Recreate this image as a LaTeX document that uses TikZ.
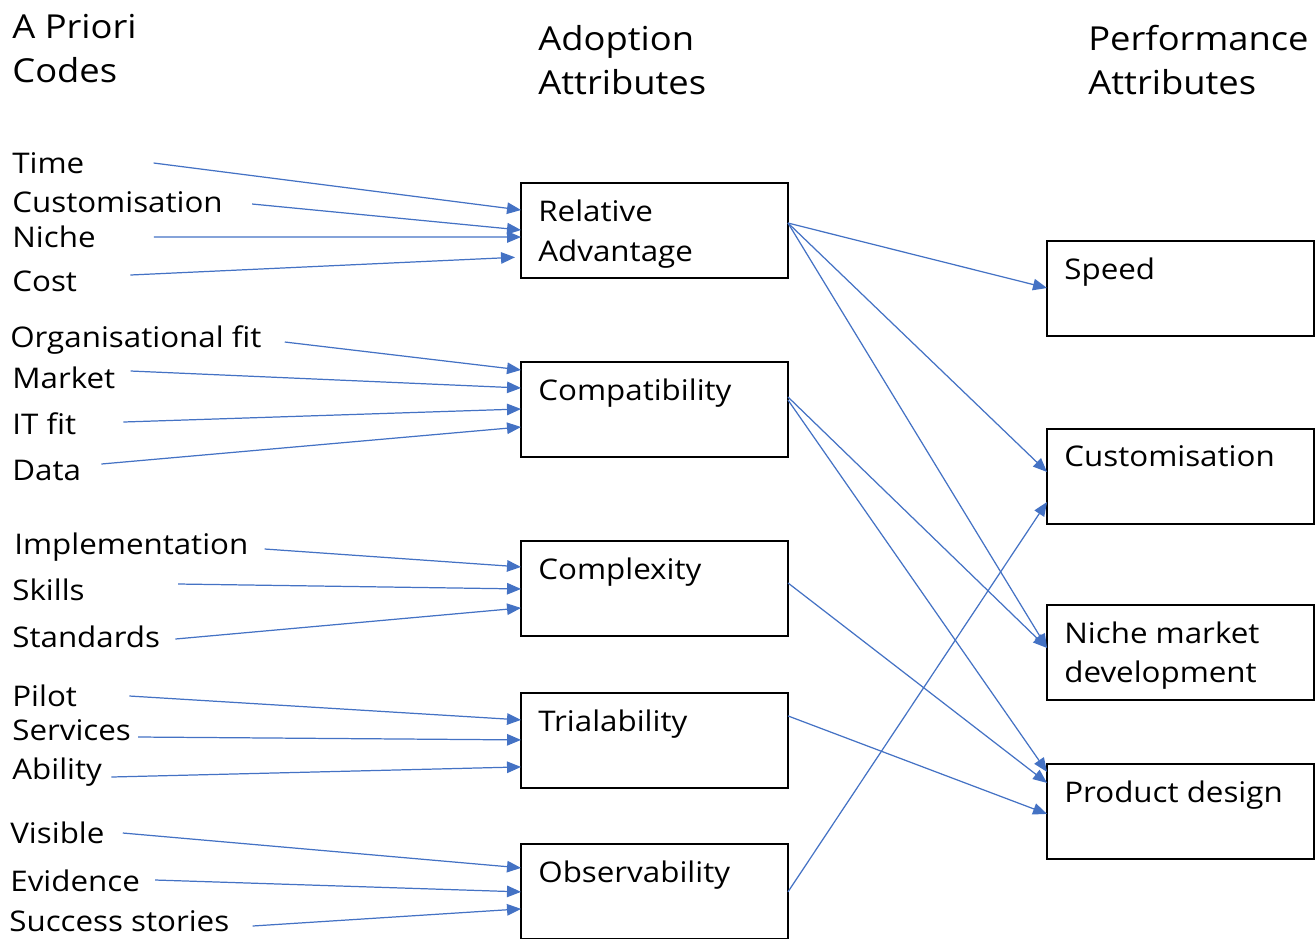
\documentclass[tikz,border=0pt]{standalone}
\usepackage{fontspec}
\setmainfont{Open Sans}[FakeStretch=1.1]
\usetikzlibrary{positioning, calc, arrows.meta}
\definecolor{arrowblue}{HTML}{4472C4}

\begin{document}
\begin{tikzpicture}[x=0.02cm, y=-0.02cm]
    \tikzstyle{box}=[draw, rectangle, line width=1pt, minimum width=5.34cm,
    minimum height=1.9cm, inner sep=0pt, outer sep=0pt];
    \tikzstyle{boxtext}=[inner sep=0pt, align=left, font=\fontsize{16.2}{22.5}\selectfont];
    \tikzstyle{codetext}=[inner sep=0pt, anchor=base west, font=\fontsize{16.2}{22.5}\selectfont];
    \tikzstyle{heading}=[inner sep=0pt, anchor=north west, align=left,
    font=\fontsize{18.8}{25}\selectfont];
    \tikzstyle{line}=[-{Triangle[length=0.28cm, width=0.23cm]}, draw=arrowblue, line width=0.7pt];
    \useasboundingbox (0,0) rectangle (1315,938);

    % headings
    \node[heading] (hcodes) at (12,14) {A Priori\\Codes};
    \node[heading] (hadopt) at (538,25) {Adoption\\Attributes};
    \node[heading] (hperf) at (1088,25) {Performance\\Attributes};

    % adoption attributes
    \node[box] (rel) at (654.5,230.5) {};
    \node[box, below=1.68cm of rel] (comp) {};
    \node[box, below=1.68cm of comp] (cplx) {};
    \node[box, below=1.14cm of cplx] (trial) {};
    \node[box, below=1.12cm of trial] (obs) {};
    \node[boxtext, below right=0.33cm and 0.34cm of rel.north west] (rel-t) {Relative\\Advantage};
    \node[boxtext, below right=0.33cm and 0.34cm of comp.north west] (comp-t) {Compatibility};
    \node[boxtext, below right=0.33cm and 0.34cm of cplx.north west] (cplx-t) {Complexity};
    \node[boxtext, below right=0.33cm and 0.34cm of trial.north west] (trial-t) {Trialability};
    \node[boxtext, below right=0.33cm and 0.34cm of obs.north west] (obs-t) {Observability};

    % performance attributes
    \node[box] (speed) at (1180.5,288.5) {};
    \node[box, below=1.86cm of speed] (cust) {};
    \node[box, below=1.62cm of cust] (niche) {};
    \node[box, below=1.28cm of niche] (design) {};
    \node[boxtext, below right=0.33cm and 0.34cm of speed.north west] (speed-t) {Speed};
    \node[boxtext, below right=0.33cm and 0.34cm of cust.north west] (cust-t) {Customisation};
    \node[boxtext, below right=0.33cm and 0.34cm of niche.north west] (niche-t) {Niche market\\development};
    \node[boxtext, below right=0.33cm and 0.34cm of design.north west] (design-t) {Product design};

    % a priori codes
    \node[codetext] (time) at (12,173) {Time};
    \node[codetext] (custom) at (12,212) {Customisation};
    \node[codetext] (nich) at (12,247) {Niche};
    \node[codetext] (cost) at (12,291) {Cost};
    \node[codetext] (orgfit) at (10,347) {Organisational fit};
    \node[codetext] (market) at (12,388) {Market};
    \node[codetext] (itfit) at (12,434) {IT fit};
    \node[codetext] (data) at (12,480) {Data};
    \node[codetext] (impl) at (14,554) {Implementation};
    \node[codetext] (skills) at (12,600) {Skills};
    \node[codetext] (stand) at (12,647) {Standards};
    \node[codetext] (pilot) at (12,706) {Pilot};
    \node[codetext] (serv) at (12,740) {Services};
    \node[codetext] (abil) at (12,779) {Ability};
    \node[codetext] (visible) at (10,843) {Visible};
    \node[codetext] (evid) at (10,891) {Evidence};
    \node[codetext] (succ) at (9,931) {Success stories};

    % codes to adoption attributes
    \draw[line] ($(time.base east)+(69,-10)$) -- ($(rel.north west)+(0,27)$);
    \draw[line] ($(custom.base east)+(29,-8)$) -- ($(rel.north west)+(0,47)$);
    \draw[line] ($(nich.base east)+(58,-10)$) -- ($(rel.north west)+(0,54)$);
    \draw[line, shorten >=0.12cm] ($(cost.base east)+(53,-16)$) -- ($(rel.north west)+(0,74)$);
    \draw[line] ($(orgfit.base east)+(23,-5)$) -- ($(comp.north west)+(0,8)$);
    \draw[line] ($(market.base east)+(15,-17)$) -- ($(comp.north west)+(0,26)$);
    \draw[line] ($(itfit.base east)+(47,-12)$) -- ($(comp.north west)+(0,47)$);
    \draw[line] ($(data.base east)+(20,-16)$) -- ($(comp.north west)+(0,65)$);
    \draw[line] ($(impl.base east)+(16,-5)$) -- ($(cplx.north west)+(0,26)$);
    \draw[line] ($(skills.base east)+(93,-16)$) -- ($(cplx.north west)+(0,48)$);
    \draw[line] ($(stand.base east)+(15,-8)$) -- ($(cplx.north west)+(0,67)$);
    \draw[line] ($(pilot.base east)+(52,-10)$) -- ($(trial.north west)+(0,27)$);
    \draw[line] ($(serv.base east)+(7,-3)$) -- ($(trial.north west)+(0,47)$);
    \draw[line] ($(abil.base east)+(9,-2)$) -- ($(trial.north west)+(0,74)$);
    \draw[line] ($(visible.base east)+(18,-10)$) -- ($(obs.north west)+(0,24)$);
    \draw[line] ($(evid.base east)+(15,-11)$) -- ($(obs.north west)+(0,48)$);
    \draw[line] ($(succ.base east)+(23,-5)$) -- ($(obs.north west)+(0,65)$);

    % adoption to performance attributes
    \draw[line] ($(rel.north east)+(0,40)$) -- ($(speed.north west)+(0,47)$);
    \draw[line] ($(rel.north east)+(0,40)$) -- ($(cust.north west)+(0,43)$);
    \draw[line] ($(rel.north east)+(0,40)$) -- ($(niche.north west)+(0,43)$);
    \draw[line] ($(comp.north east)+(0,35)$) -- ($(niche.north west)+(0,43)$);
    \draw[line] ($(comp.north east)+(0,38)$) -- ($(design.north west)+(0,8)$);
    \draw[line] ($(cplx.north east)+(0,42)$) -- ($(design.north west)+(0,19)$);
    \draw[line] ($(trial.north east)+(0,23)$) -- ($(design.north west)+(0,50)$);
    \draw[line] ($(obs.north east)+(0,48)$) -- ($(cust.north west)+(0,73)$);
\end{tikzpicture}
\end{document}
